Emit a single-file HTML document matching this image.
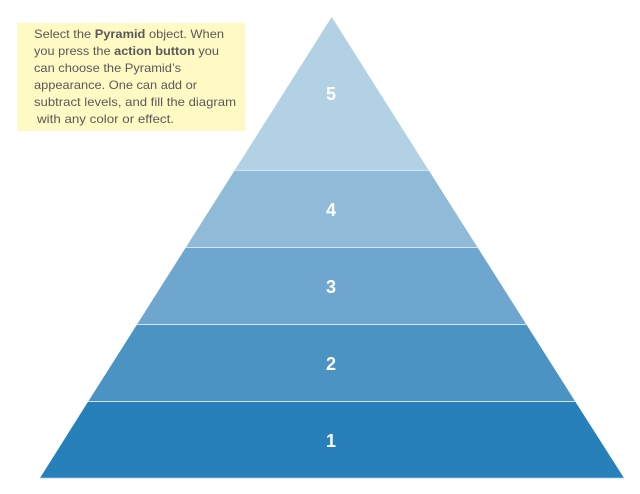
<!DOCTYPE html>
<html>
<head>
<meta charset="utf-8">
<style>
html,body{margin:0;padding:0;background:#fff;width:640px;height:494px;overflow:hidden}
svg{display:block}
.n{font:bold 18px "Liberation Sans",sans-serif;fill:#fff;text-anchor:middle}
.t{font:12px "Liberation Sans",sans-serif;fill:#595959}
.t tspan{font-weight:bold}
</style>
</head>
<body>
<svg width="640" height="494" viewBox="0 0 640 494" xmlns="http://www.w3.org/2000/svg">
<rect x="17" y="23" width="228" height="108" fill="#fff9c4"/>
<polygon points="331.7,17 428.8,170.5 234.6,170.5" fill="#b2d1e5"/>
<polygon points="234.6,170.5 428.8,170.5 477.6,247.5 185.8,247.5" fill="#8fbbd9"/>
<polygon points="185.8,247.5 477.6,247.5 526.4,324.5 137,324.5" fill="#6ea6cf"/>
<polygon points="137,324.5 526.4,324.5 575.2,401.5 88.2,401.5" fill="#4b93c3"/>
<polygon points="88.2,401.5 575.2,401.5 624,478 40,478" fill="#2780b9"/>
<g stroke="#d3e5f1" stroke-width="1">
<line x1="234.6" y1="170.5" x2="428.8" y2="170.5"/>
<line x1="185.8" y1="247.5" x2="477.6" y2="247.5"/>
<line x1="137" y1="324.5" x2="526.4" y2="324.5"/>
<line x1="88.2" y1="401.5" x2="575.2" y2="401.5"/>
<line x1="40" y1="478.3" x2="624" y2="478.3"/>
</g>
<text class="n" x="331" y="100">5</text>
<text class="n" x="331" y="216">4</text>
<text class="n" x="331" y="293">3</text>
<text class="n" x="331" y="370">2</text>
<text class="n" x="331" y="447">1</text>
<text class="t" x="34" y="38" textLength="190" lengthAdjust="spacingAndGlyphs">Select the <tspan>Pyramid</tspan> object. When</text>
<text class="t" x="34" y="55" textLength="185" lengthAdjust="spacingAndGlyphs">you press the <tspan>action button</tspan> you</text>
<text class="t" x="34" y="72" textLength="147" lengthAdjust="spacingAndGlyphs">can choose the Pyramid’s</text>
<text class="t" x="34" y="89" textLength="163" lengthAdjust="spacingAndGlyphs">appearance. One can add or</text>
<text class="t" x="34" y="106" textLength="202" lengthAdjust="spacingAndGlyphs">subtract levels, and fill the diagram</text>
<text class="t" x="37" y="123" textLength="137" lengthAdjust="spacingAndGlyphs">with any color or effect.</text>
</svg>
</body>
</html>
